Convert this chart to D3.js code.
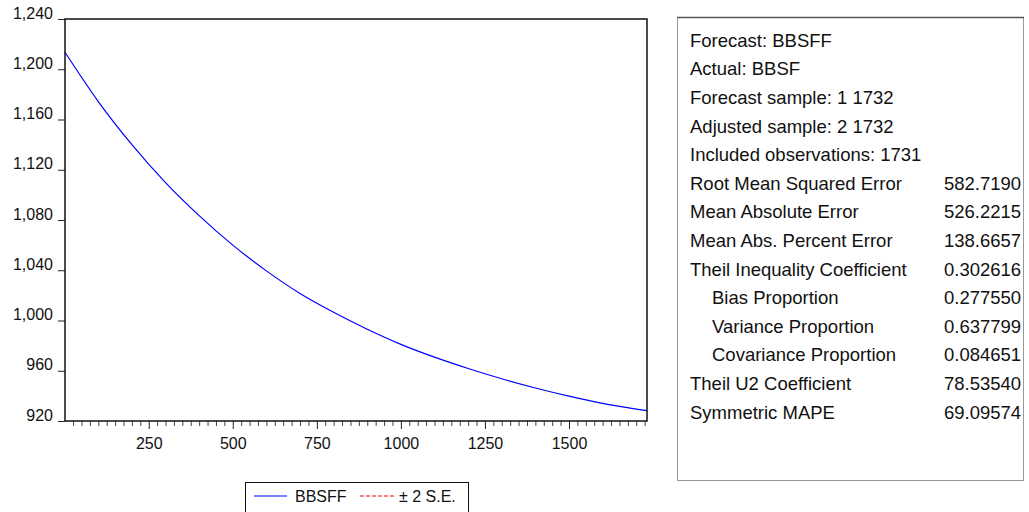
<!DOCTYPE html>
<html><head><meta charset="utf-8">
<script src="https://cdn.jsdelivr.net/npm/d3@7"></script>
<style>
html,body{margin:0;padding:0;background:#fff;}
svg text{font-family:"Liberation Sans",Arial,sans-serif;fill:#111;}
</style></head>
<body>
<svg id="c" width="1029" height="512"></svg>
<script>
const obs = [1,100,200,300,400,500,600,700,800,900,1000,1100,1200,1300,1400,1500,1600,1700,1732];
const bbsff = [1213.5,1174.3,1140.0,1109.8,1083.5,1060.0,1039.5,1021.5,1006.5,993.0,981.0,970.8,961.8,953.6,946.3,939.8,934.0,929.5,928.2];
const yTicks = [920,960,1000,1040,1080,1120,1160,1200,1240];
const xMajor = [250,500,750,1000,1250,1500];
const xMinor = d3.range(25,1732,25);
const legendLabels = ["BBSFF","± 2 S.E."];
const statLabels = ["Forecast: BBSFF","Actual: BBSF","Forecast sample: 1 1732","Adjusted sample: 2 1732","Included observations: 1731",
  "Root Mean Squared Error","Mean Absolute Error","Mean Abs. Percent Error","Theil Inequality Coefficient",
  "Bias Proportion","Variance Proportion","Covariance Proportion","Theil U2 Coefficient","Symmetric MAPE"];
const statValues = ["","","","","","582.7190","526.2215","138.6657","0.302616","0.277550","0.637799","0.084651","78.53540","69.09574"];
const statIndent = [0,0,0,0,0,0,0,0,0,1,1,1,0,0];

const svg = d3.select("#c");
const L=65, R=647, T=19, B=421;
const x = d3.scaleLinear().domain([1,1732]).range([L,R]);
const y = d3.scaleLinear().domain([920,1240]).range([B,T]);

// minor x ticks
svg.append("g").attr("transform",`translate(0,${B})`)
  .call(d3.axisBottom(x).tickValues(xMinor.filter(v=>xMajor.indexOf(v)<0)).tickSize(5).tickFormat(""))
  .call(g=>g.select(".domain").remove())
  .call(g=>g.selectAll("line").attr("stroke","#444"));
// major x ticks
svg.append("g").attr("transform",`translate(0,${B})`)
  .call(d3.axisBottom(x).tickValues(xMajor).tickSize(8).tickPadding(9).tickFormat(d3.format("d")))
  .call(g=>g.select(".domain").remove())
  .call(g=>g.selectAll("line").attr("stroke","#222"))
  .call(g=>g.selectAll("text").attr("font-size",16).attr("font-family","Liberation Sans, Arial").attr("fill","#111"));
// y axis
svg.append("g").attr("transform",`translate(${L},0)`)
  .call(d3.axisLeft(y).tickValues(yTicks).tickSize(7).tickPadding(5).tickFormat(d3.format(",")))
  .call(g=>g.select(".domain").remove())
  .call(g=>g.selectAll("line").attr("stroke","#222"))
  .call(g=>g.selectAll("text").attr("font-size",16).attr("font-family","Liberation Sans, Arial").attr("fill","#111").attr("dy","-0.05em"));

// line
const line = d3.line().x((d,i)=>x(obs[i])).y(d=>y(d)).curve(d3.curveMonotoneX);
svg.append("path").datum(bbsff).attr("d",line).attr("fill","none").attr("stroke","#0000ff").attr("stroke-width",1.2);

// frame
svg.append("rect").attr("x",L).attr("y",T).attr("width",R-L).attr("height",B-T)
  .attr("fill","none").attr("stroke","#111").attr("stroke-width",1.5);

// legend
const lg = svg.append("g");
lg.append("rect").attr("x",245.5).attr("y",482.5).attr("width",223).attr("height",30)
  .attr("fill","#fff").attr("stroke","#111").attr("stroke-width",1);
lg.append("line").attr("x1",254).attr("x2",287).attr("y1",496).attr("y2",496).attr("stroke","#0000ff").attr("stroke-width",1.2);
lg.append("text").attr("x",295).attr("y",502).attr("font-size",16).text(legendLabels[0]);
lg.append("line").attr("x1",360).attr("x2",394).attr("y1",496).attr("y2",496).attr("stroke","#ff0000").attr("stroke-width",1.2).attr("stroke-dasharray","4,2");
lg.append("text").attr("x",399).attr("y",502).attr("font-size",16).text(legendLabels[1]);

// stats table
const tb = svg.append("g");
tb.append("rect").attr("x",677.5).attr("y",17.5).attr("width",346).attr("height",463)
  .attr("fill","#fff").attr("stroke","#999").attr("stroke-width",1);
tb.append("line").attr("x1",677).attr("x2",1024).attr("y1",17.5).attr("y2",17.5).attr("stroke","#555").attr("stroke-width",1.5);
const rowY = d3.scaleLinear().domain([0,13]).range([40,412]);
tb.selectAll("text.lab").data(statLabels).join("text").attr("class","lab")
  .attr("x",(d,i)=>690+statIndent[i]*22).attr("y",(d,i)=>rowY(i)).attr("dy","0.36em")
  .attr("font-size",18.5).text(d=>d);
tb.selectAll("text.val").data(statValues).join("text").attr("class","val")
  .attr("x",944).attr("y",(d,i)=>rowY(i)).attr("dy","0.36em")
  .attr("font-size",18.5).text(d=>d);
</script>
</body></html>
